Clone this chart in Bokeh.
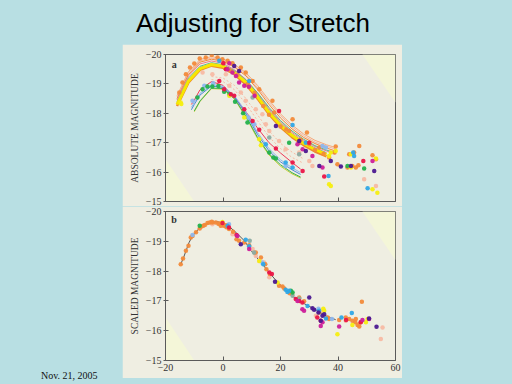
from bokeh.plotting import figure
from bokeh.models import Range1d, FixedTicker, Div, Label, PolyAnnotation
from bokeh.layouts import column, row
from bokeh.embed import file_html
from bokeh.resources import INLINE
from bokeh.core.properties import value

try:
    from bokeh.models import GlobalInlineStyleSheet
except Exception:
    GlobalInlineStyleSheet = None

NaN = float("nan")

# ---------------- texts ----------------
TITLE = "Adjusting for Stretch"
DATE = "Nov. 21, 2005"
YLABEL_A = "ABSOLUTE MAGNITUDE"
YLABEL_B = "SCALED MAGNITUDE"
X_TICKS = [-20, 0, 20, 40, 60]
Y_TICKS = [-20, -19, -18, -17, -16, -15]

# ---------------- panel a : fitted light curves ----------------
U_DAYS = [-16, -12, -8, -4, 0, 4, 8, 12, 16, 20, 24, 28, 32, 36, 39]
U1 = [-18.6, -19.42, -19.83, -19.93, -19.85, -19.66, -19.38, -18.95, -18.45, -17.98, -17.6, -17.3, -17.08, -16.93, -16.84]
U2 = [-18.5, -19.32, -19.74, -19.84, -19.77, -19.57, -19.27, -18.82, -18.3, -17.84, -17.47, -17.18, -16.97, -16.82, -16.72]
U3 = [-18.45, -19.27, -19.68, -19.78, -19.7, -19.48, -19.15, -18.68, -18.15, -17.7, -17.35, -17.08, -16.87, -16.72, -16.62]
U8 = [-18.55, -19.38, -19.78, -19.88, -19.8, -19.6, -19.32, -18.88, -18.38, -17.92, -17.54, -17.24, -17.02, -16.88, -16.79]
U7 = [-18.4, -19.2, -19.6, -19.72, -19.65, -19.45, -19.13, -18.7, -18.2, -17.75, -17.4, -17.12, -16.9, -16.75, -16.66]
U6 = [-18.35, -19.15, -19.56, -19.68, -19.62, -19.42, -19.1, -18.64, -18.1, -17.66, -17.3, -17.03, -16.82, -16.66, NaN]
U5 = [-18.25, -19.05, -19.48, -19.62, -19.55, -19.33, -18.98, -18.5, -17.97, -17.53, -17.19, -16.92, -16.7, -16.54, NaN]
U4 = [-18.3, -19.1, -19.52, -19.66, -19.6, -19.38, -19.05, -18.57, -18.03, -17.6, -17.25, -16.98, -16.77, -16.6, NaN]

L_DAYS = [-11, -10, -8, -4, 0, 4, 8, 12, 16, 20, 24, 27]
L1 = [-18.3, -18.45, -18.8, -19.08, -18.95, -18.55, -18.05, -17.5, -17.0, -16.65, -16.33, -16.1]
L2 = [-18.2, -18.38, -18.68, -18.98, -18.92, -18.6, -18.05, -17.35, -16.8, -16.42, -16.15, -15.98]
L3 = [-18.12, -18.3, -18.62, -18.93, -18.88, -18.55, -17.98, -17.28, -16.72, -16.35, -16.08, -15.92]
L4 = [NaN, -18.08, -18.42, -18.86, -18.84, -18.5, -17.9, -17.18, -16.62, -16.25, -15.98, -15.83]
L5 = [NaN, -18.05, -18.4, -18.84, -18.82, -18.48, -17.86, -17.14, -16.58, -16.2, -15.94, -15.8]

S_DAYS = [-4, 0, 4, 8, 12, 16, 20, 24, 28]
S1 = [-19.25, -19.2, -18.95, -18.5, -17.95, -17.4, -16.98, -16.68, -16.45]
S2 = [-19.15, -19.08, -18.8, -18.32, -17.75, -17.2, -16.8, -16.5, -16.3]

# ---------------- panel a : observations ----------------
A_ORANGE_DAY = [-15.2, -14.1, -12.9, -11.5, -10, -8.1, -6, -3.9, -1.9, -0.2, 1.6, 3.3, 6.2, 7.9, 10.3, 12.6, 17.2, 17.8,
                24.2, 23, 29.2, 26.5, 33.5, 36.9, 39.2, 38.8, 39.8, 47.4, 43.9, 45.6, 46.2, 45, 47.1, 52, 53.2, 43.3,
                2.5, 5, 8.5, 11, 14, 16, 20, 22, 27, 30, 32, 35]
A_ORANGE_MAG = [-18.71, -19.05, -19.33, -19.56, -19.69, -19.86, -19.9, -19.98, -19.9, -19.84, -19.79, -19.7, -19.56, -19.39, -19.1, -18.82, -18.43, -18.03,
                -17.8, -17.4, -17.35, -17.0, -16.84, -16.5, -16.87, -16.67, -16.27, -16.89, -16.61, -16.67, -16.16, -16.21, -16.23, -16.57, -16.44, -16.16,
                -19.45, -19.3, -19.0, -18.7, -18.25, -17.95, -17.55, -17.45, -17.1, -16.95, -16.75, -16.62]
A_SALMON_DAY = [-7.1, -3.7, 1, 2.2, 6.2, 7.9, 11.4, 13.7, 14.9, 16.1, 19.5, 21.8, 26.5, 30, 31.1, 49.1, 53.2]
A_SALMON_MAG = [-19.39, -19.33, -19.33, -18.94, -18.71, -18.43, -18.14, -17.97, -17.63, -17.4, -17.06, -16.78, -16.67, -16.38, -16.21, -15.76, -15.53]
A_RED_DAY = [-1.3, 0.4, 2.7, 3.9, 7.4, 10.3, 12.6, 18.4, 24.2, 27.7, 0.1, 19.5, 30, 35.2, 48.8, 1]
A_RED_MAG = [-19.1, -18.82, -18.65, -18.6, -18.14, -17.74, -17.44, -16.8, -16.33, -16.04, -19.7, -18.08, -17.0, -15.85, -16.38, -19.5]
A_MAGENTA_DAY = [1.6, 3.3, 4.5, 5.6, 7.4, 25.9, 27.7, 31.1, 34.6, 52, 2.2, 9, 11]
A_MAGENTA_MAG = [-19.5, -19.39, -19.27, -19.05, -18.94, -16.95, -16.78, -16.55, -16.16, -16.38, -19.7, -18.9, -18.6]
A_PURPLE_DAY = [3.9, 5.6, 18.4, 26.5, 28.8, 33.5, 37.5, 41, 52.6, 44.5]
A_PURPLE_MAG = [-19.61, -19.44, -17.57, -17.06, -16.72, -16.21, -16.38, -16.19, -16.04, -16.21]
A_CYAN_DAY = [-1.3, 28.8, 21.8, 24.2, 14.9, 45.3, 45.6, 36.7, 50.3, 9.1, 24.2]
A_CYAN_MAG = [-19.79, -17.0, -16.33, -16.16, -16.95, -16.67, -16.55, -15.87, -15.45, -19.1, -17.6]
A_LBLUE_DAY = [-10.6, -6.5, -3.4, 8.9, 10.9, 21.8, 34.6, 35.8]
A_LBLUE_MAG = [-18.43, -18.94, -19.02, -17.86, -17.63, -16.21, -16.89, -16.84]
A_GREEN_DAY = [-8.9, -7.1, -5.4, -3.7, -1.6, 0.4, 2.2, 4.2, 7, 8.5, 16.1, 17.5, 18.4, 23, 49.1, 43.3]
A_GREEN_MAG = [-18.54, -18.82, -18.91, -18.91, -18.93, -18.73, -18.65, -18.39, -18.0, -17.69, -16.67, -16.5, -16.46, -17.0, -16.12, -16.21]
A_YELLOW_DAY = [-14.7, -14.5, 2.2, 7.4, 12.6, 13.2, 36.9, 37.5, 39.2, 36.9, 37.5, 44.5, 52, 53.7, 53.2, 44.5]
A_YELLOW_MAG = [-18.37, -18.32, -18.6, -17.86, -17.12, -16.91, -16.55, -16.67, -16.72, -15.59, -15.53, -16.16, -15.42, -15.3, -16.46, -16.61]
A_TEAL_DAY = [26.5, 16.1, 10.3]
A_TEAL_MAG = [-16.61, -17.18, -18.54]

# ---------------- panel b : template and scaled observations ----------------
B_TEMPLATE_DAY = [-14.7, -13.7, -11.8, -10.6, -7.7, -4.8, -1.9, 1.6, 4.5, 7.4, 10.3, 13.2, 16.1, 19, 21.8, 24.8, 28.2, 32.3, 35.8, 39.2]
B_TEMPLATE_MAG = [-18.23, -18.46, -18.96, -19.18, -19.5, -19.61, -19.66, -19.54, -19.3, -19.02, -18.62, -18.29, -17.95, -17.62, -17.37, -17.11, -16.91, -16.70, -16.5, -16.37]

B_ORANGE_DAY = [-14.7, -13.9, -12.9, -12, -11.2, -10.6, -9.4, -8.1, -6.9, -5.4, -4.6, -3.7, -2.5, -1.6, -0.8, 0.4, 1.2, 2.1, 3.5, 4.7,
                5.6, 7.4, 9.1, 11.4, 13.2, 14.7, 15.1, 16.3, 19.5, 20.7, 21.3, 23.2, 24, 26.5, 28.2, 33.4, 36.4, 36.9, 40.4, 43.9,
                45, 46, 46.8, 47.4, 47.9, 48.3, 42.7, 46.2, -7.5, -6.3, -3.9, -1.3, -0.1, 1]
B_ORANGE_MAG = [-18.23, -18.42, -18.68, -18.85, -19.13, -19.18, -19.3, -19.43, -19.52, -19.61, -19.63, -19.63, -19.63, -19.59, -19.52, -19.52, -19.47, -19.41, -19.32, -19.07,
                -19.02, -18.96, -18.87, -18.62, -18.46, -18.23, -18.06, -17.9, -17.51, -17.48, -17.42, -17.26, -17.23, -17.11, -16.99, -16.61, -16.44, -16.39, -16.36, -16.39,
                -16.33, -16.28, -16.19, -16.14, -16.28, -16.97, -16.44, -16.39, -19.5, -19.55, -19.66, -19.6, -19.58, -19.54]
B_SALMON_DAY = [-3.7, -0.2, 3.3, 10.3, 11.4, 12.6, 14.3, 16.1, 26.5, 32.3, 34, 35.8, 55.5, 54.9, 42.7]
B_SALMON_MAG = [-19.57, -19.52, -19.24, -18.74, -18.51, -18.34, -18.29, -17.79, -17.06, -16.5, -16.67, -16.44, -16.11, -15.72, -16.33]
B_RED_DAY = [-0.2, 2.1, 4.7, 16.1, 17, 25.3, 26.5, 27.6, 32.8, 34, 42.8, 47.9]
B_RED_MAG = [-19.61, -19.46, -19.21, -17.95, -17.9, -17.06, -17.0, -16.95, -16.44, -16.33, -16.36, -16.28]
B_MAGENTA_DAY = [5, 9.1, 25.9, 27.6, 28.2, 34, 34.6, 40.4, 48.5, 50.8]
B_MAGENTA_MAG = [-19.18, -18.74, -17.0, -16.72, -16.67, -16.16, -16.28, -16.14, -16.36, -16.39]
B_PURPLE_DAY = [6.2, 18.1, 30, 31.1, 31.7, 33.2, 34.6, 34, 35.2, 50.8, 53.4]
B_PURPLE_MAG = [-18.9, -17.64, -17.11, -16.75, -16.7, -16.61, -16.5, -16.33, -16.55, -16.41, -16.13]
B_CYAN_DAY = [1.6, 7.9, 9.1, 14, 21.8, 22.4, 23, 29.4, 33.4, 44.8, 41.2, 35.8]
B_CYAN_MAG = [-19.52, -19.05, -18.83, -18.23, -17.37, -17.3, -17.34, -16.83, -16.67, -16.59, -16.44, -16.41]
B_LBLUE_DAY = [-10.6, 2.1, 13.7, 33.2, 37.9]
B_LBLUE_MAG = [-19.21, -19.57, -18.29, -16.74, -16.39]
B_GREEN_DAY = [-8.1, 23.6, 24.2]
B_GREEN_MAG = [-19.52, -17.34, -17.28]
B_YELLOW_DAY = [-0.2, 12.6, 19, 34.9, 35.2, 39.8, 49.7, 50.3, 45]
B_YELLOW_MAG = [-19.65, -18.34, -17.62, -16.74, -16.67, -15.88, -16.28, -16.39, -16.19]
B_TEAL_DAY = [9.3, 10.8, 24.2, 26.5]
B_TEAL_MAG = [-19.02, -18.62, -17.17, -17.08]

# ---------------- styles ----------------
BG = "#b8dfe3"
PAPER = "#efeee2"
HILITE = "#f4f6d8"
FRAME = "#5a5a5a"
SERIF = "Liberation Serif"

ORANGE = "#f28a3a"
SALMON = "#f7b9a3"
RED = "#ea1547"
MAGENTA = "#cc1f9a"
PURPLE = "#4b1890"
CYAN = "#2fa6e6"
LBLUE = "#8db7ee"
GREEN = "#22b14c"
YELLOW = "#f5ee10"
TEAL = "#8aaba2"

MINUS = "\u2212"


def label_map(ticks):
    return {t: (MINUS + str(abs(t)) if t < 0 else str(t)) for t in ticks}


def make_panel(height, border_top, border_bottom, ylabel, show_xlabels):
    p = figure(width=280, height=height,
               x_range=Range1d(-20, 60), y_range=Range1d(-15, -20),
               output_backend="svg", toolbar_location=None,
               min_border_left=43, min_border_right=7,
               min_border_top=border_top, min_border_bottom=border_bottom,
               background_fill_color=PAPER, border_fill_color=PAPER,
               outline_line_color=FRAME, outline_line_width=1)
    p.grid.visible = False
    p.xaxis.ticker = FixedTicker(ticks=X_TICKS)
    p.yaxis.ticker = FixedTicker(ticks=Y_TICKS)
    p.yaxis.major_label_overrides = label_map(Y_TICKS)
    p.axis.minor_tick_line_color = None
    p.axis.axis_line_color = FRAME
    p.axis.major_tick_line_color = FRAME
    p.yaxis.major_tick_in = 3
    p.yaxis.major_tick_out = 2
    p.xaxis.major_tick_in = 4
    p.xaxis.major_tick_out = 0
    p.axis.major_label_text_font = SERIF
    p.axis.major_label_text_font_size = "10px"
    p.axis.major_label_text_color = "#333333"
    p.yaxis.major_label_standoff = 2
    p.yaxis.axis_label = ylabel
    p.yaxis.axis_label_text_font = SERIF
    p.yaxis.axis_label_text_font_size = "9.5px"
    p.yaxis.axis_label_text_font_style = "normal"
    p.yaxis.axis_label_text_color = "#333333"
    p.yaxis.axis_label_standoff = 3
    if show_xlabels:
        p.xaxis.major_label_overrides = label_map(X_TICKS)
        p.xaxis.major_label_standoff = 3
    else:
        p.xaxis.major_label_overrides = {t: "" for t in X_TICKS}
        p.xaxis.major_label_text_font_size = "1px"
        p.xaxis.major_label_standoff = 0
    # faint light patches of the scanned page
    p.add_layout(PolyAnnotation(xs=[48.5, 60, 60], ys=[-20, -20, -18.37],
                                fill_color=HILITE, fill_alpha=1, line_color=None, level="underlay"))
    p.add_layout(PolyAnnotation(xs=[-20, -20, -10], ys=[-16.44, -15, -15],
                                fill_color=HILITE, fill_alpha=1, line_color=None, level="underlay"))
    return p


def dots(p, xs, ys, color, size=4.5):
    p.scatter(xs, ys, size=size, fill_color=color, line_color=None, fill_alpha=0.95)


# ---------------- panel a ----------------
pa = make_panel(162, 10, 5, YLABEL_A, False)
for ys, c, w in [(U1, "#f6a87a", 1), (U8, "#f4b4a0", 1), (U2, ORANGE, 1), (U3, "#f07a8c", 1),
                 (U7, "#5cb88a", 1), (U6, "#5a94e0", 1), (U5, "#ee8a2a", 2.5), (U4, "#f6e600", 3)]:
    pa.line(U_DAYS, ys, line_color=c, line_width=w)
for ys, c in [(S1, SALMON), (S2, SALMON)]:
    pa.line(S_DAYS, ys, line_color=c, line_width=1, line_dash="2 2")
for ys, c in [(L1, "#ee3a5a"), (L2, LBLUE), (L3, "#4a86dc"), (L5, "#c8d040"), (L4, "#3cb050")]:
    pa.line(L_DAYS, ys, line_color=c, line_width=1)

dots(pa, A_SALMON_DAY, A_SALMON_MAG, SALMON)
dots(pa, A_ORANGE_DAY, A_ORANGE_MAG, ORANGE)
dots(pa, A_TEAL_DAY, A_TEAL_MAG, TEAL)
dots(pa, A_LBLUE_DAY, A_LBLUE_MAG, LBLUE)
dots(pa, A_GREEN_DAY, A_GREEN_MAG, GREEN)
dots(pa, A_YELLOW_DAY, A_YELLOW_MAG, YELLOW)
dots(pa, A_CYAN_DAY, A_CYAN_MAG, CYAN)
dots(pa, A_RED_DAY, A_RED_MAG, RED)
dots(pa, A_MAGENTA_DAY, A_MAGENTA_MAG, MAGENTA)
dots(pa, A_PURPLE_DAY, A_PURPLE_MAG, PURPLE)
pa.add_layout(Label(x=-17, y=-19.67, text="a", text_font=SERIF, text_font_size="10px",
                    text_font_style="bold", text_color="#333333",
                    text_align="center", text_baseline="middle"))

# ---------------- panel b ----------------
pb = make_panel(172, 5, 18, YLABEL_B, True)
pb.line(B_TEMPLATE_DAY, B_TEMPLATE_MAG, line_color="#555555", line_width=1)
dots(pb, B_SALMON_DAY, B_SALMON_MAG, SALMON)
dots(pb, B_ORANGE_DAY, B_ORANGE_MAG, ORANGE)
dots(pb, B_TEAL_DAY, B_TEAL_MAG, TEAL)
dots(pb, B_LBLUE_DAY, B_LBLUE_MAG, LBLUE)
dots(pb, B_GREEN_DAY, B_GREEN_MAG, GREEN)
dots(pb, B_YELLOW_DAY, B_YELLOW_MAG, YELLOW)
dots(pb, B_CYAN_DAY, B_CYAN_MAG, CYAN)
dots(pb, B_RED_DAY, B_RED_MAG, RED)
dots(pb, B_MAGENTA_DAY, B_MAGENTA_MAG, MAGENTA)
dots(pb, B_PURPLE_DAY, B_PURPLE_MAG, PURPLE)
pb.add_layout(Label(x=-17, y=-19.72, text="b", text_font=SERIF, text_font_size="10px",
                    text_font_style="bold", text_color="#333333",
                    text_align="center", text_baseline="middle"))

# ---------------- slide layout ----------------
title = Div(text=('<div style="padding-top:3px;text-align:center;width:496px;'
                  "font-family:'Liberation Sans',Arial,sans-serif;font-size:26px;"
                  'line-height:30px;color:#000;white-space:nowrap">' + TITLE + '</div>'),
            width=496, height=34, styles={"background-color": BG})
left = Div(text=('<div style="padding-top:321px;padding-left:36px;'
                 "font-family:'Liberation Serif',serif;font-size:10px;line-height:12px;"
                 'color:#111;white-space:nowrap">' + DATE + '</div>'),
           width=112, height=334, styles={"background-color": BG})
right = Div(text="", width=104, height=334, styles={"background-color": BG})

sheets = []
if GlobalInlineStyleSheet is not None:
    sheets = [GlobalInlineStyleSheet(css="body{background-color:#b8dfe3;}")]

page = column(title, row(left, column(pa, pb), right), stylesheets=sheets,
              styles={"background-color": BG})

open("out.html", "w").write(file_html(page, INLINE))
